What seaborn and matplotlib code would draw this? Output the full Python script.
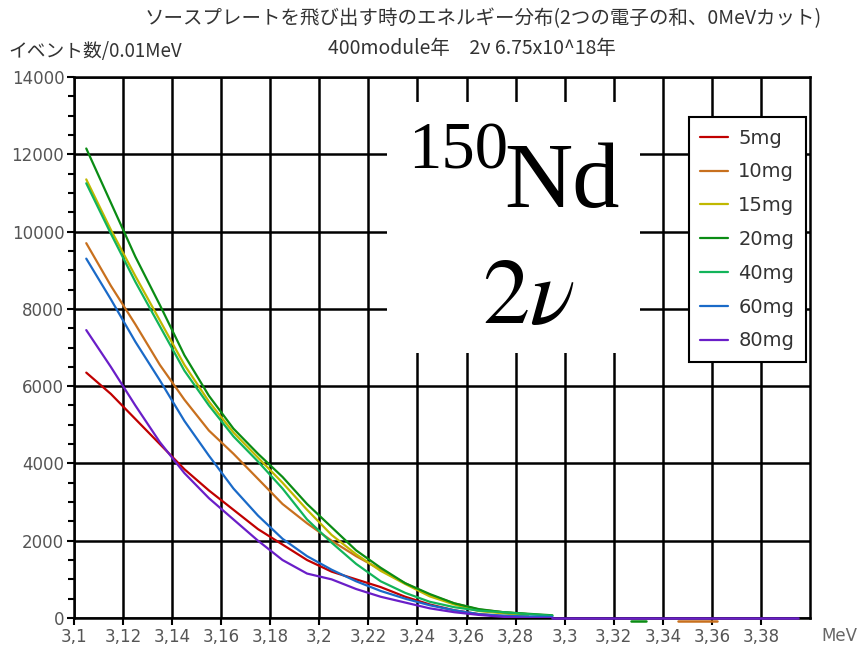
import numpy as np
import pandas as pd
import seaborn as sns
from matplotlib import pyplot as plt
from matplotlib.patches import Rectangle
from matplotlib.ticker import MultipleLocator, FixedLocator

# bin centres (MeV), 0.01 MeV bins
energy = [3.105, 3.115, 3.125, 3.135, 3.145, 3.155, 3.165, 3.175, 3.185, 3.195,
          3.205, 3.215, 3.225, 3.235, 3.245, 3.255, 3.265, 3.275, 3.285, 3.295]

counts_5mg = [6350, 5800, 5150, 4500, 3850, 3300, 2800, 2300, 1900, 1500,
              1200, 1000, 800, 550, 350, 200, 100, 50, None, None]
counts_10mg = [9700, 8600, 7600, 6550, 5650, 4850, 4250, 3600, 2950, 2450,
               2000, 1600, 1250, 900, 600, 380, 220, 150, 100, None]
counts_15mg = [11350, 10050, 8850, 7700, 6550, 5600, 4800, 4150, 3500, 2800,
               2150, 1650, 1220, 880, 560, 350, 180, 120, 60, None]
counts_20mg = [12150, 10750, 9350, 8100, 6800, 5750, 4900, 4250, 3650, 2950,
               2350, 1750, 1300, 900, 620, 380, 230, 150, 110, 70]
counts_40mg = [11250, 9950, 8700, 7550, 6400, 5500, 4700, 4050, 3350, 2550,
               1950, 1400, 950, 650, 420, 280, 190, 150, 100, 60]
counts_60mg = [9300, 8250, 7150, 6150, 5100, 4200, 3350, 2650, 2050, 1600,
               1250, 950, 700, 500, 330, 200, 100, 60, 40, 30]
counts_80mg = [7450, 6500, 5500, 4550, 3750, 3100, 2550, 2000, 1500, 1150,
               1000, 750, 550, 400, 250, 150, 80, 30, 0, 0]

# isolated pieces far in the tail
tail_80mg_x = [3.295, 3.395]
tail_80mg_y = [0, 0]
tail_20mg_x = [3.327, 3.333]
tail_20mg_y = [-80, -80]
tail_10mg_x = [3.346, 3.362]
tail_10mg_y = [-80, -80]

labels = ["5mg", "10mg", "15mg", "20mg", "40mg", "60mg", "80mg"]
colors = ["#c00000", "#c8701e", "#c0b800", "#0a8c14", "#12b45a", "#1a6ac8", "#6a1ec8"]
series = [counts_5mg, counts_10mg, counts_15mg, counts_20mg,
          counts_40mg, counts_60mg, counts_80mg]

rows = []
for lab, vals in zip(labels, series):
    for e, v in zip(energy, vals):
        if v is not None:
            rows.append((e, v, lab))
df = pd.DataFrame(rows, columns=["energy", "count", "source"])

sns.set_style("white")
plt.rcParams["font.family"] = ["Noto Sans CJK JP", "DejaVu Sans"]
plt.rcParams["mathtext.fontset"] = "stix"

fig = plt.figure(figsize=(8.59, 6.52), dpi=100)
ax = fig.add_axes([74 / 859, 1 - 618 / 652, 736 / 859, 541 / 652])

sns.lineplot(data=df, x="energy", y="count", hue="source", hue_order=labels,
             palette=colors, linewidth=1.6, ax=ax, sort=True, zorder=3)
for tx, ty, c in [(tail_80mg_x, tail_80mg_y, colors[6]),
                  (tail_20mg_x, tail_20mg_y, colors[3]),
                  (tail_10mg_x, tail_10mg_y, colors[1])]:
    ax.plot(tx, ty, color=c, lw=1.8, zorder=4, clip_on=False)

ax.set_xlim(3.1, 3.4)
ax.set_ylim(0, 14000)
xt = np.arange(3.1, 3.395, 0.02)
ax.xaxis.set_major_locator(FixedLocator(xt))
ax.set_xticklabels([f"{t:.2f}".rstrip("0").replace(".", ",") for t in xt],
                   family="DejaVu Sans")
ax.yaxis.set_major_locator(MultipleLocator(2000))
ax.yaxis.set_minor_locator(MultipleLocator(500))
for lab in ax.get_yticklabels():
    lab.set_family("DejaVu Sans")
ax.grid(True, which="major", color="black", linewidth=1.8)
ax.set_axisbelow(True)
for s in ax.spines.values():
    s.set_color("black")
    s.set_linewidth(1.8)
ax.tick_params(axis="both", which="major", direction="out", length=5, width=1.5,
               color="black", labelsize=12, labelcolor="#555555", pad=2,
               left=True, bottom=True)
ax.tick_params(axis="y", which="minor", direction="out", length=4, width=1.5,
               color="black", left=True)
ax.set_xlabel("")
ax.set_ylabel("")

leg = ax.legend(loc="upper right", bbox_to_anchor=(806 / 859, 1 - 117 / 652),
                bbox_transform=fig.transFigure, frameon=True,
                prop={"family": "DejaVu Sans", "size": 14},
                fancybox=False, edgecolor="black", framealpha=1,
                handlelength=1.4, handletextpad=0.55, labelspacing=0.76,
                borderpad=0.6, borderaxespad=0)
leg.get_frame().set_linewidth(1.5)
for t in leg.get_texts():
    t.set_color("#333333")

fig.text(483 / 859, 1 - 19 / 652, "ソースプレートを飛び出す時のエネルギー分布(2つの電子の和、0MeVカット)",
         ha="center", va="center", fontsize=14, color="#333333")
fig.text(472 / 859, 1 - 48 / 652, "400module年　2ν 6.75x10^18年",
         ha="center", va="center", fontsize=14, color="#333333")
fig.text(8 / 859, 1 - 52 / 652, "イベント数/0.01MeV", ha="left", va="center",
         fontsize=13.5, color="#333333")
fig.text(821 / 859, 1 - 636 / 652, "MeV", ha="left", va="center",
         fontsize=12, family="DejaVu Sans", color="#666666")

fig.patches.append(Rectangle((387 / 859, 1 - 353 / 652), 253 / 859, 251 / 652,
                             transform=fig.transFigure, facecolor="white",
                             edgecolor="none", zorder=5))
fig.text(458 / 859, 1 - 169 / 652, "150", ha="center", va="baseline",
         fontsize=48, family="Liberation Serif", color="black", zorder=6)
fig.text(504 / 859, 1 - 207 / 652, "Nd", ha="left", va="baseline",
         fontsize=68, family="Liberation Serif", color="black", zorder=6)
fig.text(528 / 859, 1 - 323 / 652, r"$\mathrm{2}\nu$", ha="center", va="baseline",
         fontsize=68, color="black", zorder=6)

fig.savefig("out.png", dpi=100)
